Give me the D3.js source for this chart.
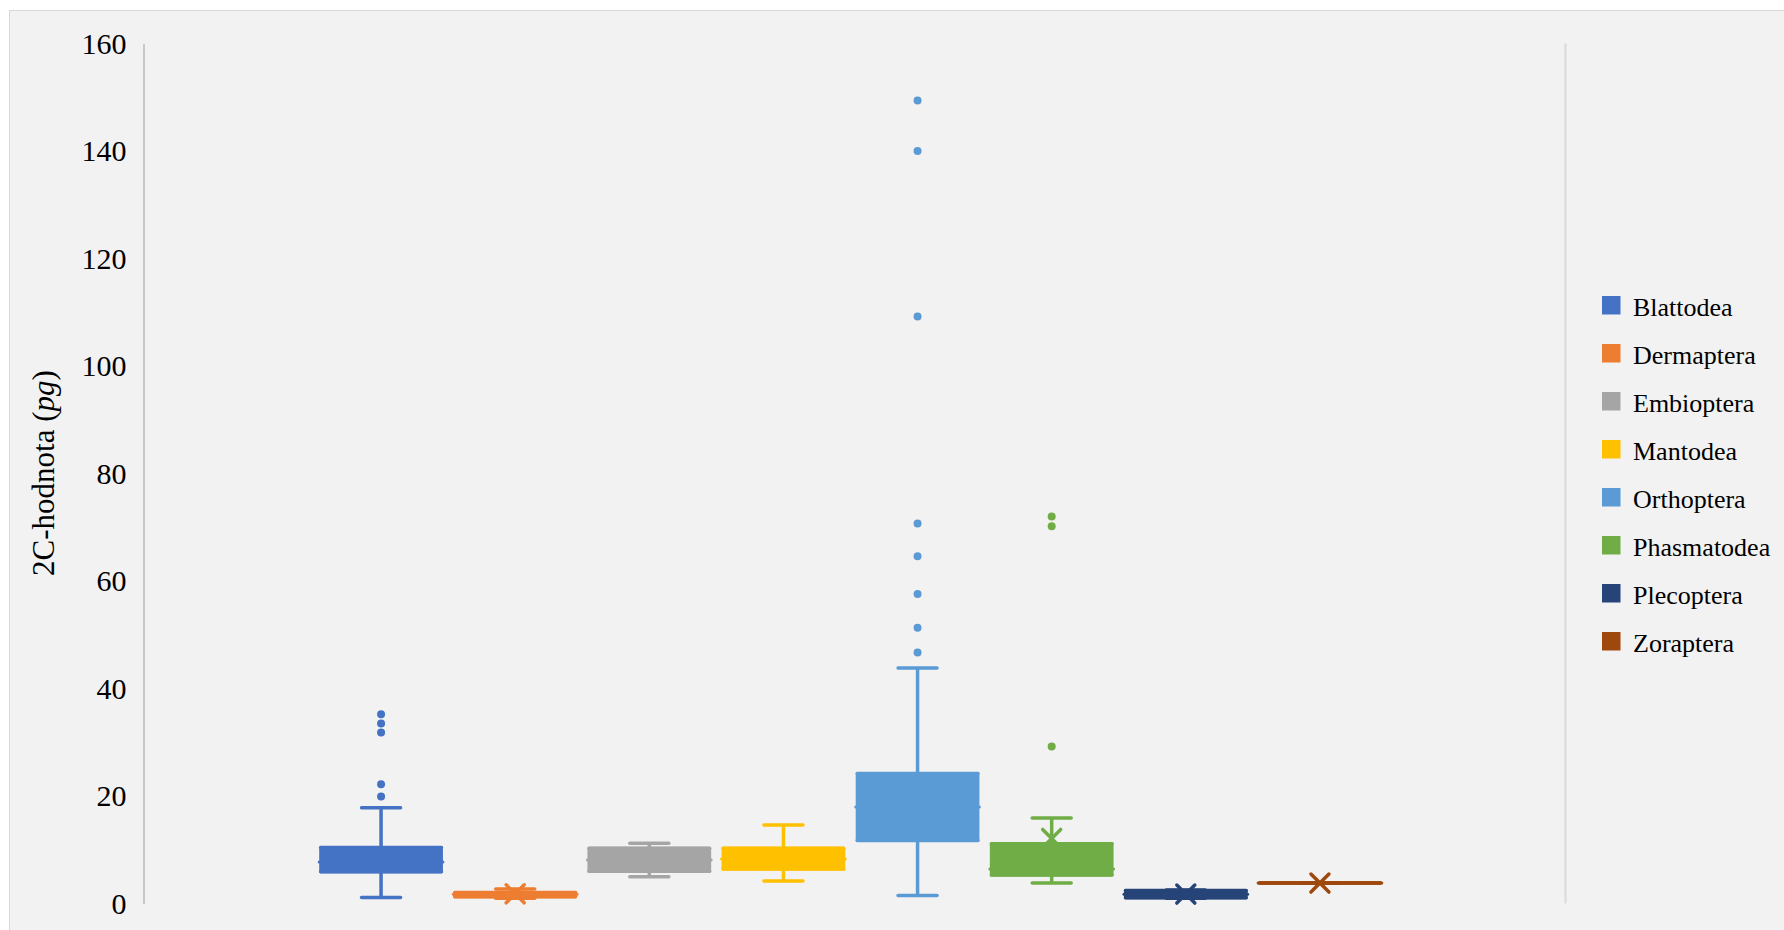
<!DOCTYPE html>
<html>
<head>
<meta charset="utf-8">
<script src="https://cdn.jsdelivr.net/npm/d3@7"></script>
<style>
  html, body { margin: 0; padding: 0; background: #ffffff; }
  svg { display: block; }
  text { font-family: "Liberation Serif", "Times New Roman", serif; fill: #000; }
</style>
</head>
<body>
<svg id="chart" width="1784" height="930"></svg>
<script>
// ---- data ----
const series = ["Blattodea", "Dermaptera", "Embioptera", "Mantodea", "Orthoptera", "Phasmatodea", "Plecoptera", "Zoraptera"];
const colors = ["#4472C4", "#ED7D31", "#A5A5A5", "#FFC000", "#5B9BD5", "#70AD47", "#264478", "#9E480E"];
const minValues    = [1.1, 1.0, 5.0, 4.2, 1.5, 3.8, 1.0, 3.8];
const q1Values     = [5.9, 1.25, 6.0, 6.4, 11.7, 5.3, 1.05, 3.8];
const medianValues = [7.7, 1.7, 8.1, 8.3, 17.95, 6.4, 1.7, 3.8];
const q3Values     = [10.4, 2.05, 10.3, 10.3, 24.2, 11.1, 2.4, 3.8];
const maxValues    = [17.8, 2.7, 11.2, 14.6, 43.8, 15.9, 2.5, 3.8];
const meanValues   = [8.2, 1.8, 8.2, 8.3, 19.0, 12.1, 1.75, 3.8];
const outlierValues = [
  [35.2, 33.5, 31.8, 22.2, 19.9],
  [],
  [],
  [],
  [149.4, 140.0, 109.2, 70.7, 64.6, 57.6, 51.3, 46.7],
  [72.0, 70.2, 29.2],
  [],
  []
];
const yTicks = [0, 20, 40, 60, 80, 100, 120, 140, 160];
const yTitle = "2C-hodnota (";
const yTitleItalic = "pg";
const yTitleEnd = ")";

// ---- layout ----
const svg = d3.select("#chart");
const plotLeft = 143.5, plotRight = 1565.5, plotTop = 43.5, plotBottom = 903.5;

// chart background + border
svg.append("rect").attr("x", 9.5).attr("y", 10.5).attr("width", 1800).attr("height", 950)
  .attr("fill", "#f2f2f2").attr("stroke", "#d9d9d9").attr("stroke-width", 1);

const y = d3.scaleLinear().domain([0, 160]).range([plotBottom, plotTop]);
const x = d3.scaleBand().domain(series).range([plotLeft + 170.5, plotRight - 178.5])
  .paddingInner(0.1).paddingOuter(0.05);
const color = d3.scaleOrdinal().domain(series).range(colors);

// right vertical line
svg.append("line").attr("x1", plotRight).attr("x2", plotRight)
  .attr("y1", plotTop).attr("y2", plotBottom)
  .attr("stroke", "#d9d9d9").attr("stroke-width", 2);

// y axis
const yAxis = svg.append("g").attr("transform", `translate(${plotLeft},0)`)
  .call(d3.axisLeft(y).tickValues(yTicks).tickSize(0).tickPadding(17).tickSizeOuter(0));
yAxis.select(".domain").attr("stroke", "#c8c8c8").attr("stroke-width", 2);
yAxis.selectAll(".tick text").attr("font-size", 30)
  .attr("font-family", "Liberation Serif, serif").attr("fill", "#000");

// y axis title
const t = svg.append("text").attr("transform", "translate(54,473) rotate(-90)")
  .attr("text-anchor", "middle").attr("font-size", 31);
t.append("tspan").text(yTitle);
t.append("tspan").attr("font-style", "italic").text(yTitleItalic);
t.append("tspan").text(yTitleEnd);

// boxes
const data = series.map((s, i) => ({
  name: s, min: minValues[i], q1: q1Values[i], med: medianValues[i], q3: q3Values[i],
  max: maxValues[i], mean: meanValues[i], out: outlierValues[i]
}));

const lw = 3.5, capW = 39, markHalf = 9;
const g = svg.append("g");
data.forEach(d => {
  const c = color(d.name);
  const x0 = x(d.name), bw = x.bandwidth(), cx = x0 + bw / 2;
  const gg = g.append("g");
  // whiskers
  gg.append("line").attr("x1", cx).attr("x2", cx).attr("y1", y(d.q3)).attr("y2", y(d.max))
    .attr("stroke", c).attr("stroke-width", lw);
  gg.append("line").attr("x1", cx).attr("x2", cx).attr("y1", y(d.q1)).attr("y2", y(d.min))
    .attr("stroke", c).attr("stroke-width", lw);
  [d.max, d.min].forEach(v => {
    gg.append("line").attr("x1", cx - capW / 2).attr("x2", cx + capW / 2)
      .attr("y1", y(v)).attr("y2", y(v))
      .attr("stroke", c).attr("stroke-width", lw).attr("stroke-linecap", "round");
  });
  // box
  gg.append("rect").attr("x", x0).attr("width", bw)
    .attr("y", y(d.q3)).attr("height", Math.max(0, y(d.q1) - y(d.q3)))
    .attr("fill", c).attr("stroke", c).attr("stroke-width", 3).attr("stroke-linejoin", "round");
  // box edges with round caps
  [d.q1, d.q3].forEach(v => {
    gg.append("line").attr("x1", x0).attr("x2", x0 + bw)
      .attr("y1", y(v)).attr("y2", y(v))
      .attr("stroke", c).attr("stroke-width", 3.5).attr("stroke-linecap", "round");
  });
  // median line (slightly protruding: notches)
  gg.append("line").attr("x1", x0 - 1.5).attr("x2", x0 + bw + 1.5)
    .attr("y1", y(d.med)).attr("y2", y(d.med))
    .attr("stroke", c).attr("stroke-width", 3).attr("stroke-linecap", "round");
  // mean marker X
  const my = y(d.mean);
  gg.append("path")
    .attr("d", `M${cx - markHalf},${my - markHalf}L${cx + markHalf},${my + markHalf}M${cx - markHalf},${my + markHalf}L${cx + markHalf},${my - markHalf}`)
    .attr("stroke", c).attr("stroke-width", 3.5).attr("stroke-linecap", "round").attr("fill", "none");
  // outliers
  gg.selectAll("circle.out").data(d.out).enter().append("circle")
    .attr("cx", cx).attr("cy", v => y(v)).attr("r", 4).attr("fill", c);
});

// legend
const legend = svg.append("g").attr("transform", "translate(1602,296)");
series.forEach((s, i) => {
  const row = legend.append("g").attr("transform", `translate(0,${i * 48})`);
  row.append("rect").attr("width", 18.5).attr("height", 18.5).attr("fill", color(s));
  row.append("text").attr("x", 31).attr("y", 19.5).attr("font-size", 26).text(s);
});
</script>
</body>
</html>
